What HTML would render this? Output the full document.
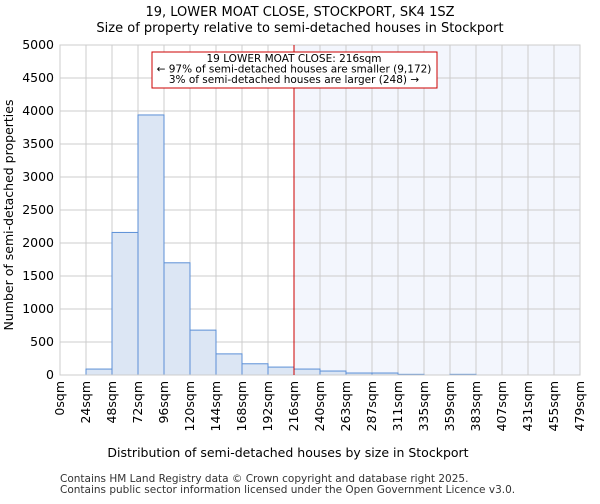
<!DOCTYPE html>
<html><head><meta charset="utf-8"><style>
body{margin:0;background:#fff;font-family:"DejaVu Sans","Liberation Sans",sans-serif}
</style></head><body>
<svg width="600" height="500" xmlns="http://www.w3.org/2000/svg" font-family="DejaVu Sans, Liberation Sans, sans-serif">
<text x="300" y="16" text-anchor="middle" font-size="13">19, LOWER MOAT CLOSE, STOCKPORT, SK4 1SZ</text>
<text x="300" y="32" text-anchor="middle" font-size="13">Size of property relative to semi-detached houses in Stockport</text>
<g id="plot"></g>
<text x="288" y="457" text-anchor="middle" font-size="12.5">Distribution of semi-detached houses by size in Stockport</text>
<text transform="translate(13,215) rotate(-90)" text-anchor="middle" font-size="12.5">Number of semi-detached properties</text>
<text x="60" y="482" font-size="10.5" fill="#333">Contains HM Land Registry data © Crown copyright and database right 2025.</text>
<text x="60" y="493" font-size="10.5" fill="#333">Contains public sector information licensed under the Open Government Licence v3.0.</text>
</svg>
<script>
const categories=["0sqm","24sqm","48sqm","72sqm","96sqm","120sqm","144sqm","168sqm","192sqm","216sqm","240sqm","263sqm","287sqm","311sqm","335sqm","359sqm","383sqm","407sqm","431sqm","455sqm","479sqm"];
const counts=[0,90,2160,3940,1700,680,320,170,120,90,60,30,30,10,0,10,0,0,0,0];
const yTicks=[0,500,1000,1500,2000,2500,3000,3500,4000,4500,5000];
const markerBin=9;
const NS="http://www.w3.org/2000/svg";
const L=60,R=580,T=45,B=375,nb=counts.length,ymax=5000;
const xs=i=>L+(R-L)*i/nb, ys=v=>B-(B-T)*v/ymax;
const g=document.getElementById('plot');
function mk(t,a){const e=document.createElementNS(NS,t);for(const k in a)e.setAttribute(k,a[k]);g.appendChild(e);return e;}
let e=mk('rect',{x:xs(markerBin),y:T,width:R-xs(markerBin),height:B-T,fill:'#f3f6fd'});


yTicks.forEach(v=>{const l=mk('line',{x1:L,x2:R,y1:ys(v),y2:ys(v),stroke:'#ccc'});


const t=mk('text',{x:L-6,y:ys(v)+4,'text-anchor':'end','font-size':12.5});t.textContent=v;

});
categories.forEach((c,i)=>{const x=xs(i);const l=mk('line',{x1:x,x2:x,y1:T,y2:B,stroke:'#ccc'});


const t=mk('text',{transform:`translate(${x+4},${B+6}) rotate(-90)`,'text-anchor':'end','font-size':12.5});t.textContent=c;

});
counts.forEach((v,i)=>{if(v<=0)return;const r=mk('rect',{x:xs(i),y:ys(v),width:xs(1)-xs(0),height:B-ys(v),fill:'#dce6f4',stroke:'#5b8fd6','stroke-width':1});

});
e=mk('rect',{x:L,y:T,width:R-L,height:B-T,fill:'none',stroke:'#ccc'});


e=mk('line',{x1:xs(markerBin),x2:xs(markerBin),y1:T,y2:B,stroke:'#c00','stroke-width':1});


e=mk('rect',{x:152,y:52,width:285,height:36,fill:'#fff',stroke:'#c00'});


["19 LOWER MOAT CLOSE: 216sqm","← 97% of semi-detached houses are smaller (9,172)","3% of semi-detached houses are larger (248) →"].forEach((s,k)=>{const t=mk('text',{x:294,y:62+k*10.5,'text-anchor':'middle','font-size':10.5});t.textContent=s;

});
</script>
</body></html>
